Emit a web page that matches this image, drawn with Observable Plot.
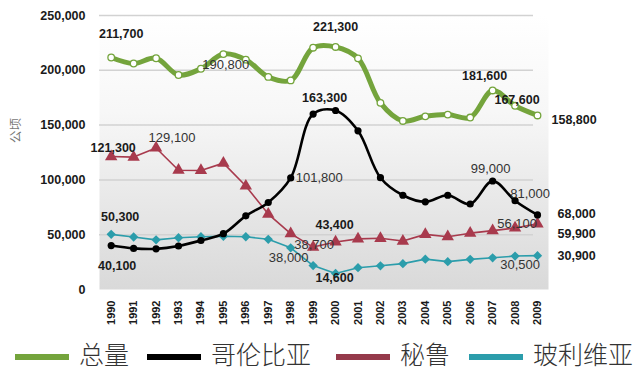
<!DOCTYPE html>
<html>
<head>
<meta charset="utf-8">
<script src="https://cdn.jsdelivr.net/npm/d3@7"></script>
<script src="https://cdn.jsdelivr.net/npm/@observablehq/plot@0.6"></script>
<style>
  html, body { margin: 0; padding: 0; background: #fff; }
  #wrap { width: 640px; height: 378px; position: relative; overflow: hidden; }
  #legend { position: relative; width: 640px; height: 48px; font-family: "Noto Sans CJK SC", sans-serif; font-size: 25px; font-weight: 300; color: #333; }
  .sw { position: absolute; height: 6px; top: 24px; }
  .lt { position: absolute; top: 8px; line-height: 30px; white-space: nowrap; }
</style>
</head>
<body>
<div id="wrap">
  <div id="chart"></div>
  <div id="legend"></div>
</div>
<script>
const years = [1990,1991,1992,1993,1994,1995,1996,1997,1998,1999,2000,2001,2002,2003,2004,2005,2006,2007,2008,2009];
const seriesNames = ["总量", "哥伦比亚", "秘鲁", "玻利维亚"];
const total    = [211700,206200,211000,195700,201400,214800,209700,194000,190800,220600,221300,210900,170300,153800,158000,159600,156900,181600,167600,158800];
const colombia = [40100,37500,37100,39700,44700,50900,67200,79400,101800,160100,163300,144800,102000,86000,80000,86000,78000,99000,81000,68000];
const peru     = [121300,120800,129100,108800,108600,115300,94400,68800,51000,38700,43400,46200,46700,44200,50300,48200,51400,53700,56100,59900];
const bolivia  = [50300,47900,45300,47200,48100,48600,48100,45800,38000,21800,14600,19900,21600,23600,27700,25400,27500,28900,30500,30900];
const yTicks = [0, 50000, 100000, 150000, 200000, 250000];
const yAxisLabel = "公顷";

// which points carry a value label (series, year)
const labelPoints = [
  ["总量",1990],["总量",2000],["总量",1998],["总量",2007],["总量",2008],["总量",2009],
  ["哥伦比亚",2000],["哥伦比亚",1998],["哥伦比亚",1990],["哥伦比亚",2007],["哥伦比亚",2008],["哥伦比亚",2009],
  ["秘鲁",1990],["秘鲁",1992],["秘鲁",1999],["秘鲁",2000],["秘鲁",2008],["秘鲁",2009],
  ["玻利维亚",1990],["玻利维亚",1998],["玻利维亚",2000],["玻利维亚",2008],["玻利维亚",2009]
];

// styling: label offsets / weight
const labelStyle = {
  "总量-1990": {dx: 10, dy: -23, b: 1},
  "总量-2000": {dx: 0, dy: -19.5, b: 1},
  "总量-1998": {dx: -65, dy: -16, b: 0},
  "总量-2007": {dx: -8, dy: -14, b: 1},
  "总量-2008": {dx: 2, dy: -6, b: 1},
  "总量-2009": {dx: 14, dy: 5, b: 1, a: "start"},
  "哥伦比亚-2000": {dx: -11, dy: -13, b: 1},
  "哥伦比亚-1998": {dx: 5, dy: 0, b: 0, a: "start"},
  "哥伦比亚-1990": {dx: 6, dy: 20, b: 1},
  "哥伦比亚-2007": {dx: -2, dy: -12.5, b: 0},
  "哥伦比亚-2008": {dx: 15, dy: -7, b: 0},
  "哥伦比亚-2009": {dx: 20, dy: -1, b: 1, a: "start"},
  "秘鲁-1990": {dx: 2, dy: -9, b: 1},
  "秘鲁-1992": {dx: 16, dy: -10.5, b: 0},
  "秘鲁-1999": {dx: 1, dy: -2.5, b: 0},
  "秘鲁-2000": {dx: -1, dy: -17, b: 1},
  "秘鲁-2008": {dx: 2, dy: -4.5, b: 0},
  "秘鲁-2009": {dx: 20, dy: 10, b: 1, a: "start"},
  "玻利维亚-1990": {dx: 9, dy: -17, b: 1},
  "玻利维亚-1998": {dx: -2, dy: 9.5, b: 0},
  "玻利维亚-2000": {dx: -1, dy: 5, b: 1},
  "玻利维亚-2008": {dx: 5, dy: 8.5, b: 0},
  "玻利维亚-2009": {dx: 20, dy: 0, b: 1, a: "start"}
};

const colors = {"总量": "#74a43c", "哥伦比亚": "#000000", "秘鲁": "#a83a4d", "玻利维亚": "#2b9dab"};
const legendColors = {"总量": "#74a43c", "哥伦比亚": "#000000", "秘鲁": "#953a4b", "玻利维亚": "#2b9dab"};

const valuesBySeries = {"总量": total, "哥伦比亚": colombia, "秘鲁": peru, "玻利维亚": bolivia};
const rows = seriesNames.flatMap(s => years.map((y, i) => ({series: s, year: y, value: valuesBySeries[s][i]})));
const bySeries = s => rows.filter(d => d.series === s);
const fmt = d3.format(",");

const labelRows = labelPoints.map(([s, y]) => {
  const st = labelStyle[s + "-" + y];
  return {series: s, year: y, value: valuesBySeries[s][years.indexOf(y)], ...st};
});

const font = "'Liberation Sans', Arial, sans-serif";

function labelMarks(bold, anchor) {
  const subset = labelRows.filter(d => !!d.b === bold && (d.a || "middle") === anchor);
  return subset.map(d => Plot.text([d], {
    x: "year", y: "value", text: r => fmt(r.value),
    dx: d.dx, dy: d.dy, textAnchor: anchor,
    fontWeight: bold ? "bold" : "normal",
    fontSize: bold ? 12.5 : 13,
    fill: bold ? "#1a1a1a" : "#333",
    fontFamily: font
  }));
}

const plot = Plot.plot({
  width: 640,
  height: 330,
  marginLeft: 99,
  marginRight: 92,
  marginTop: 15,
  marginBottom: 41,
  insetLeft: 11.7,
  insetRight: 11,
  style: {fontFamily: font, background: "transparent"},
  x: {domain: [1990, 2009], type: "linear"},
  y: {domain: [0, 250000]},
  marks: [
    Plot.frame({fill: "url(#plotbg)", stroke: null}),
    Plot.ruleY(yTicks.filter(d => d > 0), {stroke: "#d2d2d2", strokeWidth: 1.5, insetRight: 15}),
    Plot.axisY({ticks: yTicks, tickFormat: d => fmt(d), tickSize: 0, tickPadding: 14, fontWeight: "bold", fontSize: 12.5, fill: "#1a1a1a", label: null}),
    Plot.axisX({ticks: years, tickFormat: d => String(d), tickSize: 0, tickPadding: 11, tickRotate: -90, fontWeight: "bold", fontSize: 11, fill: "#1a1a1a", label: null}),
    Plot.text([yAxisLabel], {frameAnchor: "left", textAnchor: "middle", dx: -84, dy: -22, rotate: -90, fontSize: 12.5, fill: "#777", fontFamily: "'Noto Sans CJK SC', sans-serif"}),
    // Bolivia
    Plot.line(bySeries("玻利维亚"), {x: "year", y: "value", stroke: colors["玻利维亚"], strokeWidth: 1.6}),
    Plot.dot(bySeries("玻利维亚"), {x: "year", y: "value", symbol: "diamond2", r: 4.2, fill: colors["玻利维亚"], stroke: null}),
    // Peru
    Plot.line(bySeries("秘鲁"), {x: "year", y: "value", stroke: colors["秘鲁"], strokeWidth: 1.6}),
    Plot.dot(bySeries("秘鲁"), {x: "year", y: "value", symbol: "triangle", r: 4.6, fill: colors["秘鲁"], stroke: null}),
    // Colombia
    Plot.line(bySeries("哥伦比亚"), {x: "year", y: "value", stroke: colors["哥伦比亚"], strokeWidth: 2.6, curve: "catmull-rom"}),
    Plot.dot(bySeries("哥伦比亚"), {x: "year", y: "value", r: 3.6, fill: colors["哥伦比亚"], stroke: null}),
    // Total
    Plot.line(bySeries("总量"), {x: "year", y: "value", stroke: colors["总量"], strokeWidth: 5, curve: "catmull-rom"}),
    Plot.dot(bySeries("总量"), {x: "year", y: "value", r: 3.3, fill: "#fff", stroke: colors["总量"], strokeWidth: 1.3}),
    ...labelMarks(true, "middle"),
    ...labelMarks(false, "middle"),
    ...labelMarks(true, "start"),
    ...labelMarks(false, "start")
  ]
});

// gradient for the plot background
const svg = d3.select(plot);
const defs = svg.insert("defs", ":first-child");
const grad = defs.append("linearGradient").attr("id", "plotbg").attr("x1", 0).attr("y1", 0).attr("x2", 0).attr("y2", 1);
grad.append("stop").attr("offset", "0%").attr("stop-color", "#ffffff");
grad.append("stop").attr("offset", "35%").attr("stop-color", "#f7f7f7");
grad.append("stop").attr("offset", "100%").attr("stop-color", "#d9d9d9");

document.getElementById("chart").appendChild(plot);

// legend
const legend = document.getElementById("legend");
const legendLayout = [
  {sw: 15, tx: 79}, {sw: 147, tx: 211}, {sw: 336, tx: 400}, {sw: 469, tx: 533}
];
seriesNames.forEach((s, i) => {
  const sw = document.createElement("div");
  sw.className = "sw";
  sw.style.left = legendLayout[i].sw + "px";
  sw.style.width = "54px";
  sw.style.background = legendColors[s];
  legend.appendChild(sw);
  const t = document.createElement("div");
  t.className = "lt";
  t.style.left = legendLayout[i].tx + "px";
  t.textContent = s;
  legend.appendChild(t);
});
</script>
</body>
</html>
